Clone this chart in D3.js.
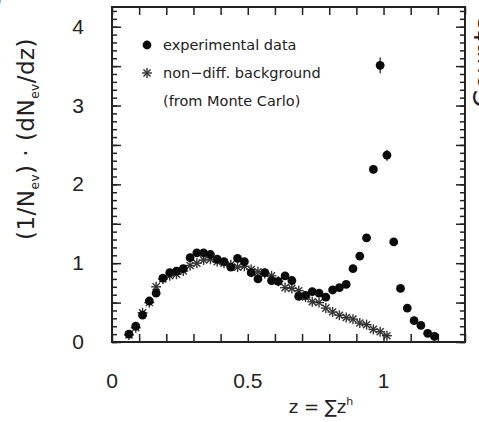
<!DOCTYPE html>
<html>
<head>
<meta charset="utf-8">
<script src="https://cdn.jsdelivr.net/npm/d3@7"></script>
<style>
  body { margin: 0; background: #fff; }
  svg { display: block; }
  text { fill: #222; }
</style>
</head>
<body>
<div id="vis-holder"></div>
<script>
// bin centres (z) and measured values
const zData = [0.0625, 0.0875, 0.1125, 0.1375, 0.1625, 0.1875, 0.2125, 0.2375, 0.2625, 0.2875,
    0.3125, 0.3375, 0.3625, 0.3875, 0.4125, 0.4375, 0.4625, 0.4875, 0.5125, 0.5375,
    0.5625, 0.5875, 0.6125, 0.6375, 0.6625, 0.6875, 0.7125, 0.7375, 0.7625, 0.7875,
    0.8125, 0.8375, 0.8625, 0.8875, 0.9125, 0.9375, 0.9625, 0.9875, 1.0125, 1.0375,
    1.0625, 1.0875, 1.1125, 1.1375, 1.1625, 1.1875];
const expData = [0.10, 0.20, 0.34, 0.52, 0.62, 0.81, 0.88, 0.90, 0.93, 1.07,
    1.13, 1.13, 1.11, 1.05, 1.02, 0.95, 1.06, 1.02, 0.88, 0.80,
    0.88, 0.78, 0.77, 0.84, 0.78, 0.58, 0.59, 0.64, 0.62, 0.57,
    0.66, 0.69, 0.73, 0.93, 1.09, 1.32, 2.19, 3.51, 2.37, 1.27,
    0.68, 0.43, 0.27, 0.21, 0.11, 0.07];
const expErr = [0.02, 0.02, 0.02, 0.02, 0.02, 0.02, 0.02, 0.02, 0.02, 0.02,
    0.02, 0.02, 0.02, 0.02, 0.02, 0.02, 0.02, 0.02, 0.02, 0.02,
    0.02, 0.02, 0.02, 0.02, 0.02, 0.02, 0.02, 0.02, 0.02, 0.02,
    0.02, 0.02, 0.02, 0.03, 0.03, 0.04, 0.05, 0.10, 0.07, 0.04,
    0.03, 0.02, 0.02, 0.02, 0.02, 0.02];

// Monte Carlo non-diffractive background
const zMC = zData.slice(0, 39);
const mcData = [0.09, 0.18, 0.37, 0.50, 0.70, 0.80, 0.84, 0.86, 0.90, 0.97,
    1.00, 1.04, 1.05, 1.02, 1.00, 0.98, 0.95, 0.96, 0.92, 0.89,
    0.87, 0.84, 0.77, 0.69, 0.68, 0.65, 0.57, 0.51, 0.50, 0.43,
    0.38, 0.34, 0.31, 0.29, 0.24, 0.22, 0.16, 0.13, 0.08];

const xTickLabels = [0, 0.5, 1];
const yTickLabels = [0, 1, 2, 3, 4];
const legendItems = ["experimental data", "non\u2212diff. background", "(from Monte Carlo)"];

const width = 479, height = 422;
const margin = { top: 7, right: 14, bottom: 80, left: 112 };

const svg = d3.select("#vis-holder")
    .append("svg")
    .attr("width", width)
    .attr("height", height);

const x = d3.scaleLinear().domain([0, 1.3]).range([margin.left, width - margin.right]);
const y = d3.scaleLinear().domain([0, 4.25]).range([height - margin.bottom, margin.top]);

const ink = "#222";

// ticks on all four sides, pointing inward
const xMajor = d3.range(0, 1.3001, 0.1);
const yMinor = d3.range(0, 4.2501, 0.1);
const yMajor = d3.range(0, 4.2501, 0.5);

svg.append("g")
    .attr("transform", "translate(0," + y(0) + ")")
    .call(d3.axisBottom(x).tickValues(xMajor).tickSize(-8).tickFormat(""))
    .call(g => g.select(".domain").remove());
svg.append("g")
    .attr("transform", "translate(0," + y(4.25) + ")")
    .call(d3.axisTop(x).tickValues(xMajor).tickSize(-8).tickFormat(""))
    .call(g => g.select(".domain").remove());

[["left", d3.axisLeft, x(0)], ["right", d3.axisRight, x(1.3)]].forEach(([side, ax, pos]) => {
    svg.append("g")
        .attr("transform", "translate(" + pos + ",0)")
        .call(ax(y).tickValues(yMinor).tickSize(-5).tickFormat(""))
        .call(g => g.select(".domain").remove());
    svg.append("g")
        .attr("transform", "translate(" + pos + ",0)")
        .call(ax(y).tickValues(yMajor).tickSize(-9).tickFormat(""))
        .call(g => g.select(".domain").remove());
});
svg.selectAll(".tick line").attr("stroke", ink).attr("stroke-width", 1.5);

// frame
svg.append("rect")
    .attr("x", x(0)).attr("y", y(4.25))
    .attr("width", x(1.3) - x(0)).attr("height", y(0) - y(4.25))
    .attr("fill", "none").attr("stroke", ink).attr("stroke-width", 2);

// tick labels
svg.selectAll(".xlab")
    .data(xTickLabels)
    .enter().append("text")
    .attr("x", d => x(d)).attr("y", y(0) + 46)
    .attr("text-anchor", "middle")
    .style("font", "21px 'Liberation Sans', Arial, sans-serif")
    .text(d => d);
svg.selectAll(".ylab")
    .data(yTickLabels)
    .enter().append("text")
    .attr("x", 78).attr("y", d => y(d) + 7)
    .attr("text-anchor", "middle")
    .style("font", "21px 'Liberation Sans', Arial, sans-serif")
    .text(d => d);

// axis titles
const xt = svg.append("text")
    .attr("x", 321).attr("y", 413)
    .attr("text-anchor", "middle")
    .style("font", "18px 'DejaVu Sans', sans-serif");
xt.append("tspan").text("z = \u2211z");
xt.append("tspan").attr("dy", -8).style("font-size", "11px").text("h");

const yt = svg.append("text")
    .attr("transform", "translate(34,139) rotate(-90)")
    .attr("text-anchor", "middle")
    .style("font", "23px 'DejaVu Sans', sans-serif")
    .style("letter-spacing", "0.5px");
yt.append("tspan").text("(1/N");
yt.append("tspan").attr("dy", 5).style("font-size", "12px").text("ev");
yt.append("tspan").attr("dy", -5).text(") \u00b7 (dN");
yt.append("tspan").attr("dy", 5).style("font-size", "12px").text("ev");
yt.append("tspan").attr("dy", -5).text("/dz)");

// neighbouring panel fragments
svg.append("text")
    .attr("x", -7).attr("y", 8)
    .style("font", "24px 'DejaVu Sans', sans-serif")
    .style("fill", "#222")
    .text(")");
svg.append("text")
    .attr("transform", "translate(493,108) rotate(-90)")
    .style("font", "26px 'DejaVu Sans', sans-serif")
    .style("fill", "#222")
    .text("Counts");

// asterisk marker
function star(g, cx, cy, r) {
    d3.range(4).forEach(i => {
        const a = i * Math.PI / 4;
        g.append("line")
            .attr("x1", cx - r * Math.cos(a)).attr("y1", cy - r * Math.sin(a))
            .attr("x2", cx + r * Math.cos(a)).attr("y2", cy + r * Math.sin(a))
            .attr("stroke", "#333").attr("stroke-width", 1.4);
    });
}

const mcG = svg.append("g");
zMC.forEach((z, i) => star(mcG, x(z), y(mcData[i]), 5));

// data: error bars + filled circles
const dataG = svg.append("g");
dataG.selectAll("line")
    .data(zData)
    .enter().append("line")
    .attr("x1", d => x(d)).attr("x2", d => x(d))
    .attr("y1", (d, i) => y(expData[i] - expErr[i]))
    .attr("y2", (d, i) => y(expData[i] + expErr[i]))
    .attr("stroke", "#111").attr("stroke-width", 1.2);
dataG.selectAll("circle")
    .data(zData)
    .enter().append("circle")
    .attr("cx", d => x(d))
    .attr("cy", (d, i) => y(expData[i]))
    .attr("r", 4.4)
    .attr("fill", "#0a0a0a");

// legend
const lg = svg.append("g");
lg.append("circle").attr("cx", 147).attr("cy", 45).attr("r", 4.4).attr("fill", "#0a0a0a");
star(lg, 147, 73, 5);
lg.selectAll("text")
    .data(legendItems)
    .enter().append("text")
    .attr("x", 163).attr("y", (d, i) => 50 + i * 28)
    .style("font", "14.5px 'DejaVu Sans', sans-serif")
    .text(d => d);
</script>
</body>
</html>
